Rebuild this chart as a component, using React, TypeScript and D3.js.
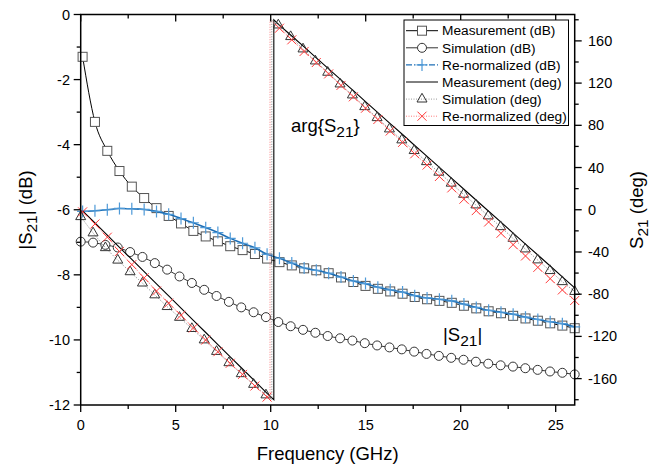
import React from "react";
import * as d3 from "d3";

// frequency grids (GHz)
const measFreq = [0.1, 0.75, 1.4, 2.04, 2.69, 3.34, 3.99, 4.63, 5.28, 5.93, 6.58, 7.22, 7.87, 8.52, 9.17, 9.81,
  10.46, 11.11, 11.76, 12.4, 13.05, 13.7, 14.35, 14.99, 15.64, 16.29, 16.94, 17.58, 18.23, 18.88, 19.53, 20.17,
  20.82, 21.47, 22.12, 22.76, 23.41, 24.06, 24.71, 25.35, 26.0];
const simFreq = [0, 0.65, 1.3, 1.95, 2.6, 3.25, 3.9, 4.55, 5.2, 5.85, 6.5, 7.15, 7.8, 8.45, 9.1, 9.75,
  10.4, 11.05, 11.7, 12.35, 13.0, 13.65, 14.3, 14.95, 15.6, 16.25, 16.9, 17.55, 18.2, 18.85, 19.5, 20.15,
  20.8, 21.45, 22.1, 22.75, 23.4, 24.05, 24.7, 25.35, 26.0];

// |S21| in dB
const measDb = [-1.3, -3.3, -4.19, -4.81, -5.29, -5.64, -5.95, -6.19, -6.42, -6.65, -6.82, -6.97, -7.12, -7.24, -7.36, -7.5,
  -7.61, -7.71, -7.8, -7.86, -7.95, -8.08, -8.22, -8.34, -8.43, -8.51, -8.58, -8.68, -8.75, -8.8, -8.86, -8.95,
  -9.03, -9.12, -9.18, -9.26, -9.34, -9.41, -9.49, -9.56, -9.64];
const simDb = [-6.98, -7.01, -7.08, -7.16, -7.3, -7.45, -7.64, -7.84, -8.05, -8.25, -8.46, -8.65, -8.83, -9.0, -9.15, -9.3,
  -9.45, -9.58, -9.69, -9.78, -9.88, -9.95, -10.02, -10.1, -10.17, -10.23, -10.29, -10.36, -10.43, -10.49, -10.55, -10.61,
  -10.67, -10.73, -10.78, -10.82, -10.87, -10.92, -10.97, -11.01, -11.06];
const renormDb = [-6.05, -6.03, -6.0, -5.96, -5.97, -5.99, -6.05, -6.14, -6.27, -6.4, -6.55, -6.7, -6.88, -7.03, -7.17, -7.37,
  -7.49, -7.64, -7.79, -7.86, -7.95, -8.07, -8.19, -8.27, -8.38, -8.46, -8.53, -8.64, -8.71, -8.75, -8.8, -8.9,
  -9.0, -9.09, -9.15, -9.21, -9.3, -9.37, -9.44, -9.5, -9.6];

// arg{S21} in degrees (wrapped)
const measDeg = [-1, -12.5, -24.1, -35.6, -47.1, -58.7, -70.2, -81.7, -93.2, -104.8, -116.3, -127.8, -139.4, -150.9, -162.4, -174,
  175, 164.6, 154.3, 143.9, 133.5, 123.1, 112.8, 102.4, 92, 81.6, 71.3, 60.9, 50.5, 40.1, 29.8, 19.4,
  9, -1.4, -11.8, -22.1, -32.5, -42.9, -53.3, -63.6, -74];
const simDeg = [-6.6, -22, -36, -47.8, -58.8, -69.5, -80.7, -91.8, -102, -112.6, -123.4, -134.3, -145, -155.4, -165.5, -175.5,
  175, 164, 152.3, 140.9, 130.2, 119.1, 108.7, 97.6, 87.2, 76.5, 66.1, 56, 45.5, 35.5, 25.1, 14.6,
  4.5, -5.9, -16.1, -27.1, -37.2, -47.6, -57.7, -68.2, -77.5];
const renormDeg = [-2, -13.5, -26, -39.5, -52, -64.5, -77, -88.5, -100, -112, -123.5, -134.5, -145.5, -156, -167, -177.5,
  172, 161, 150, 139.5, 128.7, 117.8, 107, 96.2, 85.5, 74.6, 63.8, 53, 42.3, 31.5, 20.7, 10,
  -0.8, -11.6, -22.3, -33.1, -43.8, -54.6, -65.3, -76, -86];

const freqTicks = [0, 5, 10, 15, 20, 25];
const freqMinor = [2.5, 7.5, 12.5, 17.5, 22.5];
const dbTicks = [0, -2, -4, -6, -8, -10, -12];
const dbMinor = [-1, -3, -5, -7, -9, -11];
const degTicks = [160, 120, 80, 40, 0, -40, -80, -120, -160];
const degMinor = [180, 140, 100, 60, 20, -20, -60, -100, -140, -180];

const legendLabels = ["Measurement (dB)", "Simulation (dB)", "Re-normalized (dB)",
  "Measurement (deg)", "Simulation (deg)", "Re-normalized (deg)"];

const W = 667, H = 466;
const L = 80.7, R = 574.7, T = 14.5, B = 405;
const FONT = "Arial, 'Liberation Sans', sans-serif";
const BLUE = "#1f6fb5";
const BLUE_M = "#4f9ad8";
const RED = "#ff3a3a";
const RED_L = "#ff7b7b";

// insert a vertical jump where the phase wraps past +-180
function withWraps(f: number[], v: number[]) {
  const pts: [number, number][] = [[f[0], v[0]]];
  for (let i = 1; i < f.length; i++) {
    const a = v[i - 1], b = v[i];
    if (Math.abs(b - a) > 180) {
      const bu = b > a ? b - 360 : b + 360;
      const edge = b > a ? -180 : 180;
      const t = (edge - a) / (bu - a);
      const fc = f[i - 1] + t * (f[i] - f[i - 1]);
      pts.push([fc, edge], [fc, -edge]);
    }
    pts.push([f[i], b]);
  }
  return pts;
}

const Square = ({ cx, cy }) => <rect x={cx - 4.5} y={cy - 4.5} width={9} height={9} fill="#fff" stroke="#555" strokeWidth={1} />;
const Circle = ({ cx, cy }) => <circle cx={cx} cy={cy} r={4.5} fill="#fff" stroke="#333" strokeWidth={1} />;
const Plus = ({ cx, cy }) => <path d={`M${cx - 5.5},${cy}H${cx + 5.5}M${cx},${cy - 6}V${cy + 6}`} stroke={BLUE_M} strokeWidth={1.2} />;
const Tri = ({ cx, cy }) => <path d={`M${cx},${cy - 5.8}L${cx + 5},${cy + 2.9}L${cx - 5},${cy + 2.9}Z`} fill="none" stroke="#333" strokeWidth={1} />;
const Cross = ({ cx, cy }) => <path d={`M${cx - 4.5},${cy - 4.5}L${cx + 4.5},${cy + 4.5}M${cx - 4.5},${cy + 4.5}L${cx + 4.5},${cy - 4.5}`} stroke={RED} strokeWidth={1} />;

export default function App() {
  const x = d3.scaleLinear().domain([0, 26]).range([L, R]);
  const yDb = d3.scaleLinear().domain([-12, 0]).range([B, T]);
  const yDeg = d3.scaleLinear().domain([-185, 185]).range([B, T]);

  const zip = (f: number[], v: number[]) => f.map((ff, i) => [ff, v[i]] as [number, number]);
  const dbLine = d3.line<[number, number]>().x(d => x(d[0])).y(d => yDb(d[1])).curve(d3.curveMonotoneX);
  const degLine = d3.line<[number, number]>().x(d => x(d[0])).y(d => yDeg(d[1]));

  const measDbPts = zip(measFreq, measDb);
  const simDbPts = zip(simFreq, simDb);
  const renormDbPts = zip(measFreq, renormDb);
  const simDegPts = zip(simFreq, simDeg);
  const renormDegPts = zip(measFreq, renormDeg);

  const legendStyles = [
    { stroke: "#000", dash: undefined, w: 1, M: Square },
    { stroke: "#333", dash: undefined, w: 1, M: Circle },
    { stroke: BLUE, dash: "6,2,1.5,2", w: 1.3, M: Plus },
    { stroke: "#000", dash: undefined, w: 1, M: null },
    { stroke: "#999", dash: "1,1.5", w: 1, M: Tri },
    { stroke: RED_L, dash: "1,1.5", w: 1, M: Cross },
  ];

  return (
    <svg width={W} height={H} style={{ position: "absolute", left: 0, top: 0, background: "#fff" }} fontFamily={FONT}>
      {/* magnitude curves */}
      <path d={dbLine(measDbPts)} fill="none" stroke="#000" strokeWidth={1} />
      {measDbPts.map((d, i) => <Square key={"s" + i} cx={x(d[0])} cy={yDb(d[1])} />)}
      <path d={dbLine(simDbPts)} fill="none" stroke="#333" strokeWidth={1} />
      {simDbPts.map((d, i) => <Circle key={"c" + i} cx={x(d[0])} cy={yDb(d[1])} />)}
      <path d={dbLine(renormDbPts)} fill="none" stroke={BLUE} strokeWidth={1.6} />
      {renormDbPts.map((d, i) => <Plus key={"p" + i} cx={x(d[0])} cy={yDb(d[1])} />)}

      {/* phase curves */}
      <path d={degLine(withWraps(measFreq, measDeg))} fill="none" stroke="#000" strokeWidth={1.1} />
      <path d={degLine(withWraps(simFreq, simDeg))} fill="none" stroke="#888" strokeWidth={1} strokeDasharray="1,1.5" />
      {simDegPts.map((d, i) => <Tri key={"t" + i} cx={x(d[0])} cy={yDeg(d[1])} />)}
      <path d={degLine(withWraps(measFreq, renormDeg))} fill="none" stroke={RED_L} strokeWidth={1} strokeDasharray="1,1.5" />
      {renormDegPts.map((d, i) => <Cross key={"x" + i} cx={x(d[0])} cy={yDeg(d[1])} />)}

      {/* frame */}
      <rect x={L} y={T} width={R - L} height={B - T} fill="none" stroke="#000" strokeWidth={1.5} />

      {/* bottom + top ticks */}
      {freqTicks.map(t => (
        <g key={"fx" + t}>
          <line x1={x(t)} x2={x(t)} y1={B} y2={B + 7} stroke="#000" strokeWidth={1.3} />
          <line x1={x(t)} x2={x(t)} y1={T} y2={T + 7} stroke="#000" strokeWidth={1.3} />
          <text x={x(t)} y={430} fontSize={14.5} textAnchor="middle">{t}</text>
        </g>
      ))}
      {freqMinor.map(t => (
        <g key={"fm" + t}>
          <line x1={x(t)} x2={x(t)} y1={B} y2={B + 4} stroke="#000" strokeWidth={1.3} />
          <line x1={x(t)} x2={x(t)} y1={T} y2={T + 4} stroke="#000" strokeWidth={1.3} />
        </g>
      ))}

      {/* left dB axis */}
      {dbTicks.map(t => (
        <g key={"dy" + t}>
          <line x1={L - 7} x2={L} y1={yDb(t)} y2={yDb(t)} stroke="#000" strokeWidth={1.3} />
          <text x={70} y={yDb(t)} dy="0.35em" fontSize={14.5} textAnchor="end">{t}</text>
        </g>
      ))}
      {dbMinor.map(t => <line key={"dm" + t} x1={L - 4} x2={L} y1={yDb(t)} y2={yDb(t)} stroke="#000" strokeWidth={1.3} />)}

      {/* right deg axis */}
      {degTicks.map(t => (
        <g key={"gy" + t}>
          <line x1={R} x2={R + 7} y1={yDeg(t)} y2={yDeg(t)} stroke="#000" strokeWidth={1.3} />
          <text x={588} y={yDeg(t)} dy="0.35em" fontSize={14.5}>{t}</text>
        </g>
      ))}
      {degMinor.map(t => <line key={"gm" + t} x1={R} x2={R + 4} y1={yDeg(t)} y2={yDeg(t)} stroke="#000" strokeWidth={1.3} />)}

      {/* axis titles */}
      <text x={(L + R) / 2} y={460} fontSize={18.5} textAnchor="middle">Frequency (GHz)</text>
      <text transform="translate(32,210) rotate(-90)" fontSize={18.5} textAnchor="middle">
        |S<tspan fontSize={15.5} dy={5}>21</tspan><tspan dy={-5}>| (dB)</tspan>
      </text>
      <text transform="translate(643,210) rotate(-90)" fontSize={18.5} textAnchor="middle">
        S<tspan fontSize={15.5} dy={5}>21</tspan><tspan dy={-5}> (deg)</tspan>
      </text>

      {/* annotations */}
      <text x={291} y={132} fontSize={18.5}>
        arg{"{"}S<tspan fontSize={15.5} dy={5}>21</tspan><tspan dy={-5}>{"}"}</tspan>
      </text>
      <text x={443} y={341} fontSize={18.5}>
        |S<tspan fontSize={15.5} dy={5}>21</tspan><tspan dy={-5}>|</tspan>
      </text>

      {/* legend */}
      <rect x={404} y={20} width={164.5} height={105.5} fill="#fff" stroke="#000" strokeWidth={1} />
      {legendLabels.map((lab, i) => {
        const cy = 30.7 + i * 17.1;
        const s = legendStyles[i];
        const M = s.M;
        return (
          <g key={"lg" + i}>
            <line x1={406} x2={438} y1={cy} y2={cy} stroke={s.stroke} strokeWidth={s.w} strokeDasharray={s.dash} />
            {M && <M cx={422} cy={cy} />}
            <text x={442} y={cy} dy="0.35em" fontSize={13.7}>{lab}</text>
          </g>
        );
      })}
    </svg>
  );
}
